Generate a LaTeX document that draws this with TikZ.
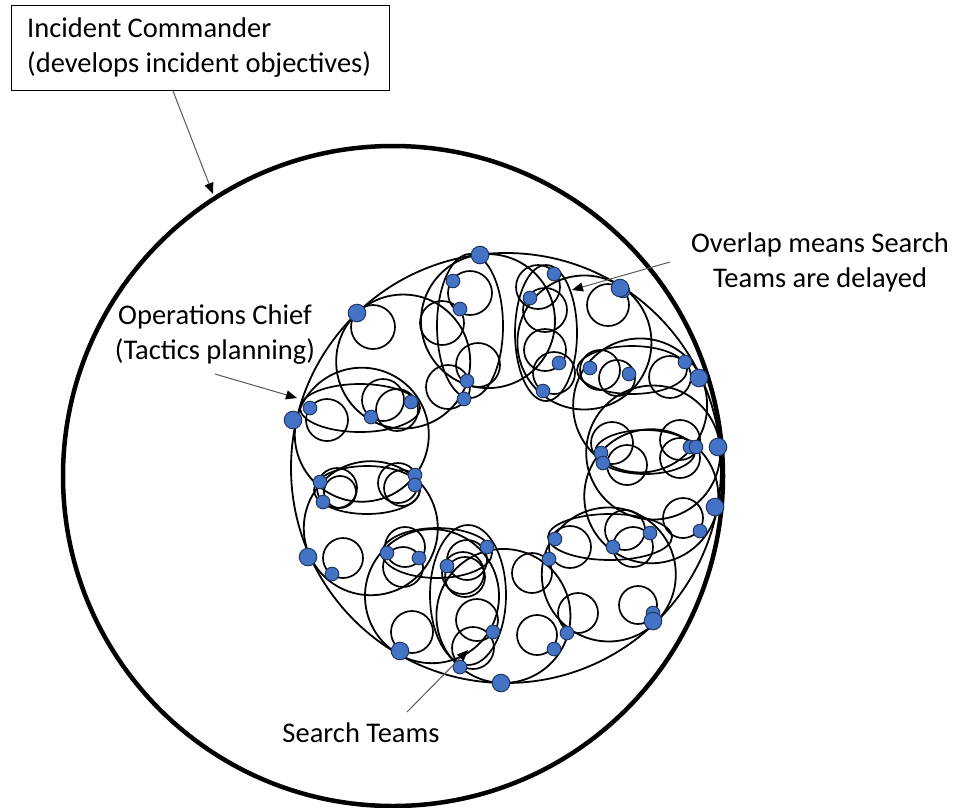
\documentclass[tikz,border=0pt]{standalone}
\usepackage{fontspec}
\setmainfont{Carlito}
\usetikzlibrary{arrows.meta,calc}
\definecolor{dotblue}{HTML}{4472C4}
\definecolor{dotedge}{HTML}{1F3864}
\definecolor{pointer}{HTML}{595959}
\begin{document}
\begin{tikzpicture}[x=1pt,y=-1pt,
  label/.style={font=\fontsize{28.5}{35}\selectfont, inner sep=0pt, align=center},
  ring/.style={draw=black, line width=1.8pt},
  team/.style={draw=black, line width=1.7pt},
  dot/.style={fill=dotblue, draw=dotedge, line width=1pt},
  pointerline/.style={draw=pointer, line width=1pt,
    -{Triangle[length=11pt,width=9pt,color=black]}}]
\useasboundingbox (0,0) rectangle (953,807);
\fill[white] (0,0) rectangle (953,807);

% Incident Commander: outer circle
\coordinate (ic) at (393,476);
\draw[line width=4.5pt] (ic) circle[radius=330pt];

% Operations Chief: ring circle
\coordinate (ops) at (506,468);
\draw[ring] (ops) circle[radius=215pt];

% Divisions: circles tangent to the ring
\foreach \a in {193,226,263,302,335,354,11,46,91,120,156}
  \draw[ring] ($(ops)+(\a:148)$) circle[radius=67pt];

% Overlapping sub-groups
\foreach \x/\y/\rx/\ry/\r in {470/326/33/72/0, 546/333/31/68/0, 367/490/53/24/0,
    645/452/50/22/0, 610/537/62/23/0, 468/595/38/70/0, 360/408/60/24/0,
    632/370/55/24/0, 437/553/55/25/0}
  \draw[team, rotate around={\r:(\x,\y)}] (\x,\y) ellipse[x radius=\rx pt, y radius=\ry pt];

% Search teams
\foreach \x/\y/\r in {373/327/22, 442/323/22, 470/293/22, 478/365/22, 448/387/22,
    327/420/21, 383/400/21, 397/410/21,
    538/287/22, 545/310/22, 545/350/21, 554/373/21,
    608/305/21, 600/370/20, 617/378/18, 670/377/21,
    612/443/21, 627/465/20, 680/440/20, 680/458/20,
    683/518/20, 625/530/20, 633/547/20, 570/547/21, 532/573/20,
    578/613/20, 638/605/19, 537/635/20, 477/620/21, 473/648/21, 463/573/21,
    412/632/21, 343/558/20, 405/547/20, 403/567/20, 467/560/20, 465/577/20,
    337/488/20, 340/492/16, 398/483/20, 402/488/18}
  \draw[team] (\x,\y) circle[radius=\r pt];

% Team markers
\foreach \x/\y in {310/408, 371/417, 411/402, 453/281, 460/309, 467/381, 464/399,
    554/274, 530/298, 559/363, 543/391, 590/368, 629/374, 685/362,
    601/453, 603/463, 690/447, 696/447, 700/531, 650/533, 613/547,
    555/539, 549/559, 567/633, 554/649, 493/632, 460/667, 447/566,
    487/547, 419/558, 387/553, 332/574, 320/482, 323/502, 415/475, 415/485,
    653/613, 623/291}
  \draw[dot] (\x,\y) circle[radius=6.8pt];
\foreach \x/\y in {293/420, 357/313, 480/255, 620/288, 699/378, 718/447,
    715/507, 653/621, 501/683, 400/651, 308/557}
  \draw[dot] (\x,\y) circle[radius=8.8pt];

% Labels
\node[draw=black, line width=1.2pt, anchor=north west, minimum width=378pt,
      minimum height=85pt, inner sep=0pt] (icbox) at (11,5) {};
\node[label, anchor=west, align=left] (ictext) at (27,48)
  {Incident Commander\\(develops incident objectives)};
\node[label] (opstext) at (215,335) {Operations Chief\\(Tactics planning)};
\node[label] (overlaptext) at (820,262) {Overlap means Search\\Teams are delayed};
\node[label] (teamstext) at (361,733) {Search Teams};

% Pointers
\coordinate (icFrom) at (173,91);
\coordinate (icTo) at (213,194);
\coordinate (opsFrom) at (215,374);
\coordinate (opsTo) at (297,398);
\coordinate (ovFrom) at (670,262);
\coordinate (ovTo) at (572,290);
\coordinate (tmFrom) at (407,712);
\coordinate (tmTo) at (468,650);
\draw[pointerline] (icFrom) -- (icTo);
\draw[pointerline] (opsFrom) -- (opsTo);
\draw[pointerline] (ovFrom) -- (ovTo);
\draw[pointerline] (tmFrom) -- (tmTo);
\end{tikzpicture}
\end{document}
